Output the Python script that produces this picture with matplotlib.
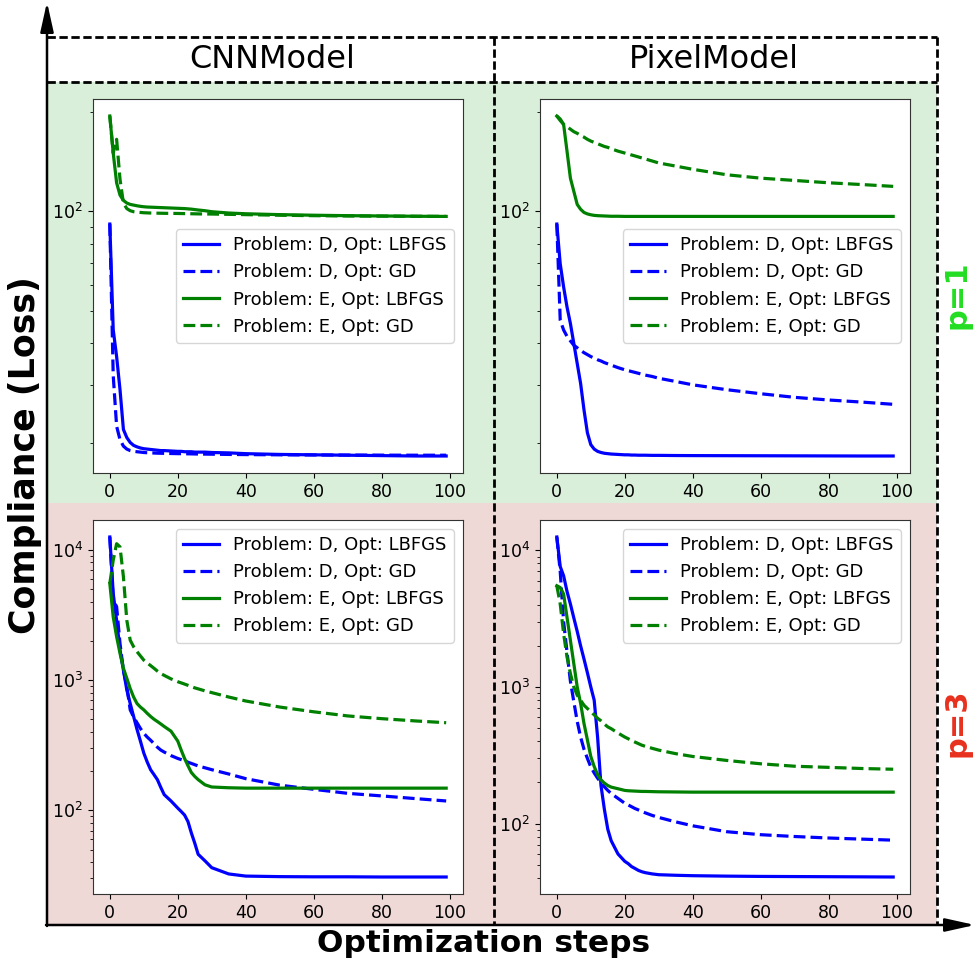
import matplotlib.pyplot as plt
from matplotlib.patches import Rectangle, FancyArrowPatch
from matplotlib.lines import Line2D
from matplotlib.ticker import NullFormatter

# optimisation steps at which the loss was logged
steps = [0, 1, 2, 3, 4, 5, 6, 7, 8, 9, 10, 11, 12, 13, 14, 15, 16, 18, 20, 21,
         22, 23, 24, 25, 26, 28, 30, 35, 40, 50, 60, 70, 80, 90, 99]

# CNNModel, p=1
cnn_p1_D_lbfgs = [91.6, 44, 36.5, 29, 22, 20.8, 20.1, 19.7, 19.5, 19.35, 19.25, 19.2, 19.15, 19.1, 19.05,
                  19.0, 19.0, 18.95, 18.9, 18.9, 18.85, 18.85, 18.85, 18.8, 18.8, 18.8, 18.75, 18.7, 18.6,
                  18.5, 18.45, 18.4, 18.35, 18.3, 18.3]
cnn_p1_D_gd = [91.6, 32, 22.5, 20.5, 19.6, 19.2, 19.0, 18.9, 18.85, 18.8, 18.75, 18.72, 18.7, 18.68, 18.66,
               18.65, 18.64, 18.62, 18.6, 18.6, 18.58, 18.58, 18.57, 18.56, 18.55, 18.54, 18.53, 18.5, 18.48,
               18.45, 18.43, 18.42, 18.41, 18.4, 18.4]
cnn_p1_E_lbfgs = [194, 150, 122, 112, 108, 106, 105, 104.5, 104, 103.6, 103.3, 103.1, 103.0, 102.9, 102.8,
                  102.7, 102.6, 102.4, 102.2, 102.1, 102.0, 101.8, 101.6, 101.3, 101.0, 100.5, 99.8, 98.9,
                  98.4, 97.8, 97.4, 97.1, 96.9, 96.7, 96.6]
cnn_p1_E_gd = [194, 150, 165, 125, 106, 102, 100.5, 99.8, 99.5, 99.3, 99.1, 99.0, 98.9, 98.85, 98.8, 98.75,
               98.7, 98.65, 98.6, 98.55, 98.5, 98.45, 98.4, 98.35, 98.3, 98.25, 98.2, 98.0, 97.8, 97.4, 97.1,
               96.9, 96.8, 96.7, 96.6]

# PixelModel, p=1
pix_p1_D_lbfgs = [91.6, 69.5, 59.2, 51.5, 45.9, 40, 34.8, 30.3, 25.2, 21.5, 19.8, 19.2, 18.9, 18.75, 18.65,
                  18.6, 18.55, 18.5, 18.45, 18.45, 18.42, 18.42, 18.4, 18.4, 18.4, 18.38, 18.38, 18.36, 18.35,
                  18.34, 18.33, 18.32, 18.31, 18.3, 18.3]
pix_p1_D_gd = [91.6, 47, 43.9, 42, 40.7, 39.5, 38.8, 38.1, 37.5, 37, 36.5, 36.1, 35.7, 35.4, 35.0, 34.7,
               34.4, 33.8, 33.3, 33.1, 32.9, 32.7, 32.5, 32.3, 32.1, 31.8, 31.4, 30.7, 30.0, 29.0, 28.2,
               27.5, 27.0, 26.6, 26.2]
pix_p1_E_lbfgs = [194, 190, 183, 152, 126, 115, 105, 101.5, 99.3, 98.3, 97.7, 97.3, 97.1, 97.0, 96.9, 96.8,
                  96.7, 96.7, 96.6, 96.6, 96.6, 96.6, 96.6, 96.6, 96.6, 96.6, 96.6, 96.6, 96.6, 96.6, 96.6,
                  96.6, 96.6, 96.6, 96.6]
pix_p1_E_gd = [194, 188, 183, 180, 177, 174, 172, 169.5, 167.5, 165, 163, 161.5, 160, 158.5, 157, 156,
               154.5, 152, 150, 149, 148, 147, 146, 145, 144, 142, 140, 137, 134, 129, 126, 124, 122,
               120.5, 119]

# CNNModel, p=3
cnn_p3_D_lbfgs = [12500, 4600, 2870, 1700, 1190, 840, 660, 525, 418, 340, 275, 235, 205, 188, 172, 150,
                  132, 118, 104, 98, 92, 82, 67, 56, 46, 41, 36.3, 32.5, 31.3, 31.0, 30.9, 30.9, 30.8,
                  30.8, 30.8]
cnn_p3_D_gd = [12500, 4100, 3650, 1900, 1190, 890, 590, 520, 470, 425, 390, 365, 345, 325, 305, 290, 280,
               263, 250, 245, 240, 234, 229, 224, 219, 212, 205, 190, 175, 156, 145, 135, 129, 123, 118]
cnn_p3_E_lbfgs = [5500, 3050, 2150, 1600, 1230, 1030, 860, 740, 660, 620, 590, 555, 525, 500, 480, 460,
                  440, 405, 340, 290, 250, 220, 195, 182, 172, 157, 151, 149, 148, 148, 148, 148, 148,
                  148, 148]
cnn_p3_E_gd = [5500, 8300, 11100, 10500, 6200, 2870, 2020, 1800, 1650, 1530, 1420, 1350, 1290, 1230, 1170,
               1120, 1085, 1020, 970, 950, 930, 910, 890, 870, 855, 825, 800, 740, 690, 620, 570, 530,
               505, 485, 470]

# PixelModel, p=3
pix_p3_D_lbfgs = [12500, 7600, 6500, 5000, 4040, 3200, 2550, 2000, 1600, 1270, 1000, 800, 430, 190, 127,
                  91, 75, 60, 53, 51, 48.5, 47, 45.5, 44.5, 43.8, 42.9, 42.3, 41.9, 41.6, 41.3, 41.1,
                  41.0, 40.9, 40.8, 40.7]
pix_p3_D_gd = [12500, 7000, 3000, 1800, 1100, 780, 560, 430, 350, 300, 260, 235, 215, 200, 186, 175, 166,
               153, 141, 137, 133, 129, 126, 123, 120, 115, 111, 103, 96.4, 87.3, 83, 80.5, 78.5, 77, 75.7]
pix_p3_E_lbfgs = [5500, 5340, 4780, 3230, 2190, 1480, 1000, 760, 540, 410, 310, 262, 228, 209, 198, 190,
                  185, 180, 175, 174, 173.5, 173, 172.5, 172, 172, 171.5, 171, 170.5, 170, 170, 170, 170,
                  170, 170, 170]
pix_p3_E_gd = [5500, 4050, 2450, 1660, 1250, 1000, 870, 800, 735, 695, 660, 625, 590, 565, 535, 510, 495,
               460, 430, 418, 405, 395, 385, 375, 368, 356, 345, 325, 310, 290, 274, 263, 258, 253, 250]

models = ['CNNModel', 'PixelModel']
rows = ['p=1', 'p=3']
labels = ['Problem: D, Opt: LBFGS', 'Problem: D, Opt: GD',
          'Problem: E, Opt: LBFGS', 'Problem: E, Opt: GD']
panels = {
    (0, 0): [cnn_p1_D_lbfgs, cnn_p1_D_gd, cnn_p1_E_lbfgs, cnn_p1_E_gd],
    (0, 1): [pix_p1_D_lbfgs, pix_p1_D_gd, pix_p1_E_lbfgs, pix_p1_E_gd],
    (1, 0): [cnn_p3_D_lbfgs, cnn_p3_D_gd, cnn_p3_E_lbfgs, cnn_p3_E_gd],
    (1, 1): [pix_p3_D_lbfgs, pix_p3_D_gd, pix_p3_E_lbfgs, pix_p3_E_gd],
}
styles = [('blue', '-'), ('blue', '--'), ('green', '-'), ('green', '--')]

W, H = 976, 966
fig = plt.figure(figsize=(W / 100, H / 100), dpi=100)


def fx(px):
    return px / W


def fy(py):
    return 1 - py / H


# row backgrounds
fig.add_artist(Rectangle((fx(47), fy(503)), fx(937) - fx(47), fy(82) - fy(503),
                         transform=fig.transFigure, facecolor='#d9efd9', edgecolor='none', zorder=0))
fig.add_artist(Rectangle((fx(47), fy(925)), fx(937) - fx(47), fy(503) - fy(925),
                         transform=fig.transFigure, facecolor='#efd9d7', edgecolor='none', zorder=0))

# dashed grid
dash = dict(color='black', lw=2.0, dashes=(3.0, 1.3), transform=fig.transFigure, zorder=1)
fig.add_artist(Line2D([fx(47), fx(937)], [fy(37), fy(37)], **dash))
fig.add_artist(Line2D([fx(47), fx(937)], [fy(82), fy(82)], **dash))
fig.add_artist(Line2D([fx(494), fx(494)], [fy(37), fy(925)], **dash))
fig.add_artist(Line2D([fx(937), fx(937)], [fy(37), fy(925)], **dash))

# outer arrows
arrow = dict(arrowstyle='-|>,head_length=0.9,head_width=0.2', color='black', lw=1.8,
             mutation_scale=20, shrinkA=0, shrinkB=0, transform=fig.transFigure, zorder=2)
fig.add_artist(FancyArrowPatch((fx(47), fy(926)), (fx(47), fy(2)), **arrow))
fig.add_artist(FancyArrowPatch((fx(46), fy(925)), (fx(975), fy(925)), **arrow))

# column headers and row labels
fig.text(fx(272), fy(60), models[0], ha='center', va='center', fontsize=23)
fig.text(fx(714), fy(60), models[1], ha='center', va='center', fontsize=23)
fig.text(fx(957), fy(295), rows[0], ha='center', va='center', rotation=90,
         fontsize=22, fontweight='bold', color='#22dd22')
fig.text(fx(957), fy(723), rows[1], ha='center', va='center', rotation=90,
         fontsize=22, fontweight='bold', color='#e8301e')
fig.text(fx(25), fy(455), 'Compliance (Loss)', ha='center', va='center', rotation=90,
         fontsize=25, fontweight='bold')
fig.text(fx(484), fy(944), 'Optimization steps', ha='center', va='center',
         fontsize=22.5, fontweight='bold')

lefts = [93, 540]
tops = [99, 520]
for (r, c), series in panels.items():
    x0 = lefts[c]
    y0 = tops[r]
    ax = fig.add_axes([fx(x0), fy(y0 + 374), fx(x0 + 370) - fx(x0), fy(y0) - fy(y0 + 374)])
    for vals, (col, ls), lab in zip(series, styles, labels):
        ax.plot(steps, vals, color=col, linestyle=ls, lw=2.3, label=lab)
    ax.set_yscale('log')
    ax.yaxis.set_minor_formatter(NullFormatter())
    ax.tick_params(labelsize=12.5)
    for sp in ax.spines.values():
        sp.set_color('#333333')
    ax.legend(loc='center right' if r == 0 else 'upper right', fontsize=13)

fig.savefig('out.png', dpi=100)
